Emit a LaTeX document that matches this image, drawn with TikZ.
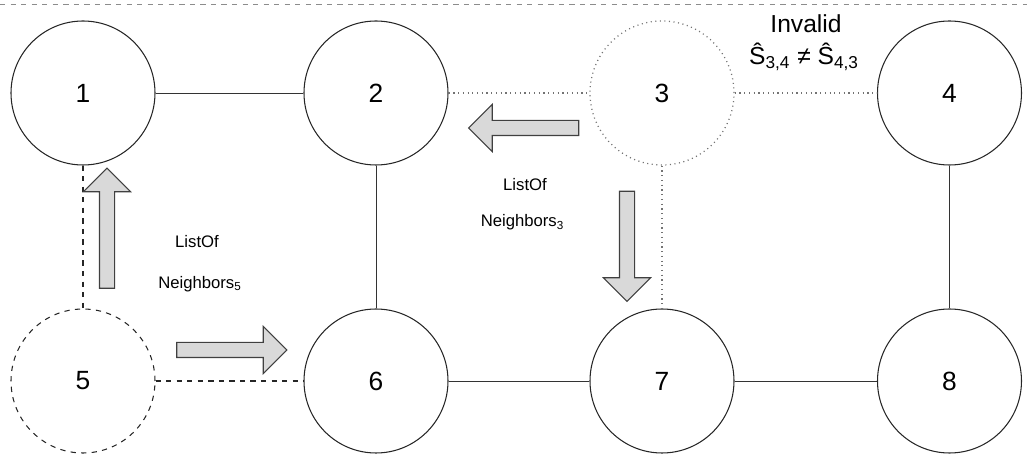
\documentclass[tikz,border=0pt]{standalone}
\usepackage{fontspec}
\setmainfont{Liberation Sans}
\usetikzlibrary{shapes.arrows}

\begin{document}
\begin{tikzpicture}[
    vertex/.style={circle, draw=black!85, line width=0.6pt, minimum size=2.88cm, inner sep=0pt, font=\fontsize{15}{17}\selectfont},
    link/.style={draw=black!80, line width=0.5pt},
    weak/.style={draw=black!55, dotted, line width=0.7pt},
    lost/.style={draw=black!85, dashed, line width=0.6pt},
    msg/.style={single arrow, draw=black!75, line width=0.6pt, fill=black!15, inner xsep=0pt, inner ysep=0.14cm,
                single arrow head extend=0.32cm, minimum height=2.2cm},
    note/.style={font=\fontsize{9.5}{11}\selectfont}
]
    \useasboundingbox (0,0) rectangle (20.54,9.12);

    % page border line
    \draw [black!45, dashed, line width=0.4pt] (0,9.04) -- (20.54,9.04);

    %%%%%%%%%%%%%%%%%%%%%%%%%%
    % Nodes
    %%%%%%%%%%%%%%%%%%%%%%%%%%
    \def\yT{7.26}
    \def\yB{1.5}
    \node [vertex] (n1) at (1.66,\yT) {1};
    \node [vertex] (n2) at (7.52,\yT) {2};
    \node [vertex, weak] (n3) at (13.24,\yT) {3};
    \node [vertex] (n4) at (18.99,\yT) {4};
    \node [vertex, lost] (n5) at (1.66,\yB) {5};
    \node [vertex] (n6) at (7.52,\yB) {6};
    \node [vertex] (n7) at (13.24,\yB) {7};
    \node [vertex] (n8) at (18.99,\yB) {8};

    %%%%%%%%%%%%%%%%%%%%%%%%%%
    % Links
    %%%%%%%%%%%%%%%%%%%%%%%%%%
    \draw [link] (n1) -- (n2);
    \draw [link] (n2) -- (n6);
    \draw [link] (n4) -- (n8);
    \draw [link] (n6) -- (n7);
    \draw [link] (n7) -- (n8);
    \draw [weak] (n2) -- (n3);
    \draw [weak] (n3) -- (n4);
    \draw [weak] (n3) -- (n7);
    \draw [lost] (n1) -- (n5);
    \draw [lost] (n5) -- (n6);

    %%%%%%%%%%%%%%%%%%%%%%%%%%
    % Neighbour lists
    %%%%%%%%%%%%%%%%%%%%%%%%%%
    \node [msg, rotate=180] (m32) at (10.55,6.56) {};
    \node [msg, rotate=-90] (m37) at (12.54,4.27) {};
    \node [msg, rotate=90, minimum height=2.4cm] (m51) at (2.14,4.48) {};
    \node [msg] (m56) at (4.56,2.12) {};

    \node [note] (l3a) at (10.5,5.42) {ListOf};
    \node [note] (l3b) at (10.45,4.68) {Neighbors\textsubscript{3}};
    \node [note] (l5a) at (3.94,4.28) {ListOf};
    \node [note] (l5b) at (4.0,3.44) {Neighbors\textsubscript{5}};

    % check between 3 and 4
    \node [font=\fontsize{14}{16}\selectfont] (bad) at (16.12,8.64) {Invalid};
    \node [font=\fontsize{14}{16}\selectfont] (neq) at (16.08,7.98) {\^S\textsubscript{3,4} ≠ \^S\textsubscript{4,3}};
\end{tikzpicture}
\end{document}
